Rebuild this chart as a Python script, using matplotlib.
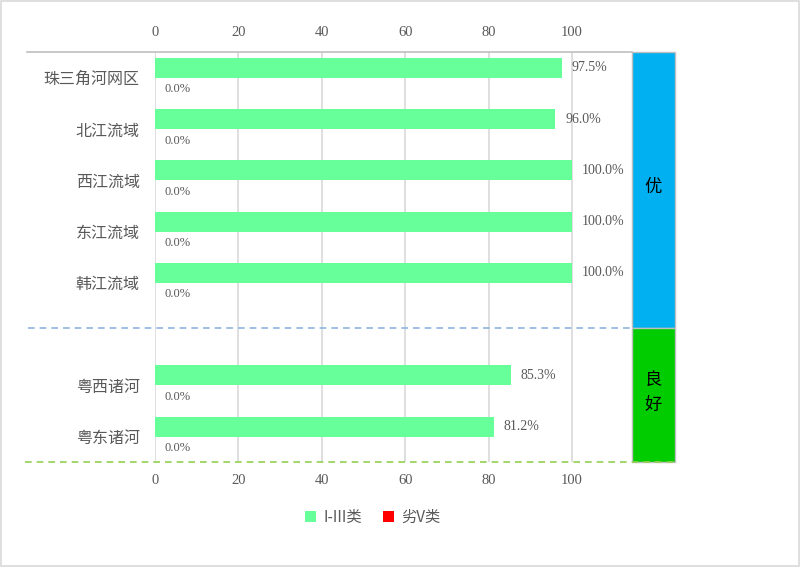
import matplotlib
import numpy as np
from matplotlib import pyplot as plt
from matplotlib.lines import Line2D
from matplotlib.patches import Patch, Rectangle

matplotlib.use("Agg")

# data
categories = ["珠三角河网区", "北江流域", "西江流域", "东江流域", "韩江流域", "", "粤西诸河", "粤东诸河"]
good_pct = [97.5, 96.0, 100.0, 100.0, 100.0, np.nan, 85.3, 81.2]
bad_pct = [0.0, 0.0, 0.0, 0.0, 0.0, np.nan, 0.0, 0.0]
series_names = ["I-III类", "劣V类"]
x_ticks = [0, 20, 40, 60, 80, 100]
band_labels = ["优", "良\n好"]

W, H = 800, 567
CJK = ["Noto Sans CJK SC", "DejaVu Sans"]
SERIF = ["Liberation Serif", "DejaVu Serif"]
GRAY = "#595959"


def fx(px):
    return px / W


def fy(py):
    return 1 - py / H


fig = plt.figure(figsize=(W / 100, H / 100), dpi=100)
fig.patch.set_facecolor("white")
fig.add_artist(Rectangle((0.001, 0.001), 0.998, 0.997, transform=fig.transFigure,
                         fill=False, edgecolor="#d9d9d9", linewidth=1.2))

ax = fig.add_axes([fx(155), fy(462), fx(632) - fx(155), fy(52) - fy(462)])
y = np.arange(len(categories))
ax.barh(y - 0.19, good_pct, height=0.39, color="#66FF99", zorder=3)
ax.barh(y + 0.19, bad_pct, height=0.39, color="#FF0000", zorder=3)
ax.set_xlim(0, 114.4)
ax.set_ylim(len(categories) - 0.5, -0.5)
ax.set_xticks(x_ticks)
ax.set_yticks(y)
ax.set_yticklabels(categories, family=CJK, fontsize=11.5, color=GRAY)
ax.tick_params(axis="y", length=0, pad=11)
ax.tick_params(axis="x", length=0, top=False, bottom=False, labeltop=True, labelbottom=True,
               pad=9, labelsize=10.5, labelcolor=GRAY)
for lab in ax.get_xticklabels():
    lab.set_family(SERIF)
for v in x_ticks:
    ax.axvline(v, color="#d9d9d9", linewidth=1.2, zorder=1)
for s in ax.spines.values():
    s.set_visible(False)

for yi, g, b in zip(y, good_pct, bad_pct):
    if np.isnan(g):
        continue
    ax.text(g + 2.4, yi - 0.19, f"{g:.1f}%", va="center", ha="left",
            fontsize=10, color=GRAY, family=SERIF)
    ax.text(b + 2.2, yi + 0.23, f"{b:.1f}%", va="center", ha="left",
            fontsize=9, color=GRAY, family=SERIF)

# frame lines
fig.add_artist(Line2D([fx(27), fx(632)], [fy(52), fy(52)], color="#bfbfbf", linewidth=1.2))
fig.add_artist(Line2D([fx(28), fx(632)], [fy(328), fy(328)], color="#8DB4E2",
                      linewidth=1.2, linestyle=(0, (4, 3))))
fig.add_artist(Line2D([fx(25), fx(675)], [fy(462), fy(462)], color="#92D050",
                      linewidth=1.2, linestyle=(0, (4, 3))))

# grade bands
bands = [(52, 328, "#00B0F0"), (328, 462, "#00CC00")]
for (top, bottom, color), label in zip(bands, band_labels):
    fig.add_artist(Rectangle((fx(632), fy(bottom)), fx(675) - fx(632), fy(top) - fy(bottom),
                             transform=fig.transFigure, facecolor=color,
                             edgecolor="#bfbfbf", linewidth=1))
    fig.text(fx(653.5), fy((top + bottom) / 2 - 3), label, ha="center", va="center",
             fontsize=12.5, color="black", family=CJK, linespacing=1.5)

handles = [Patch(facecolor="#66FF99"), Patch(facecolor="#FF0000")]
fig.legend(handles, series_names, loc="center", bbox_to_anchor=(fx(373), fy(517)), ncol=2,
           frameon=False, handlelength=0.7, handleheight=0.7, handletextpad=0.5,
           columnspacing=1.4, prop={"family": CJK, "size": 11}, labelcolor=GRAY)

fig.savefig("out.png", dpi=100)
